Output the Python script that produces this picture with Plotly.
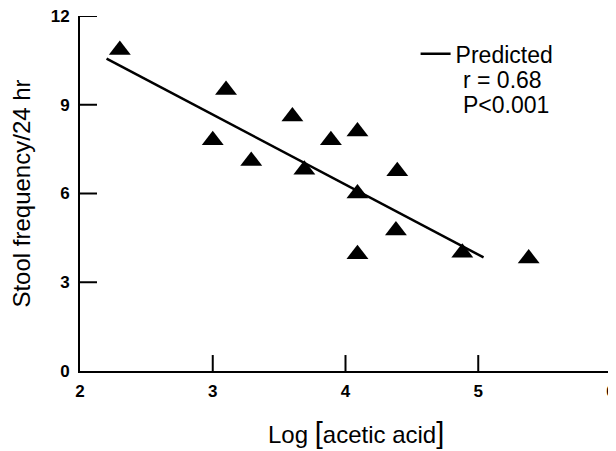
import plotly.graph_objects as go

# Observed data: log[acetic acid] vs stool frequency per 24 hr
log_acetic = [2.30, 3.10, 3.00, 3.29, 3.60, 3.69, 3.89, 4.09, 4.09, 4.39, 4.38, 4.09, 4.88, 5.38]
stool_freq = [10.85, 9.5, 7.8, 7.1, 8.6, 6.8, 7.8, 8.1, 6.0, 6.75, 4.75, 3.95, 4.0, 3.8]

# Predicted regression line end points
pred_x = [2.20, 5.04]
pred_y = [10.56, 3.84]

x_ticks = [2, 3, 4, 5, 6]
y_ticks = [0, 3, 6, 9, 12]
x_range = [2, 6]
y_range = [0, 12]

# inward tick lengths, in axis units (about 16-17 px)
X_TICK_LEN = 0.54   # y-units
Y_TICK_LEN = 0.128  # x-units

FONT = "Liberation Sans, Arial, Helvetica, sans-serif"

fig = go.Figure()

# inward tick marks as line segments
tx, ty = [], []
for v in x_ticks[1:]:
    tx += [v, v, None]
    ty += [y_range[0], y_range[0] + X_TICK_LEN, None]
for v in y_ticks[1:]:
    tx += [x_range[0], x_range[0] + Y_TICK_LEN, None]
    ty += [v, v, None]
fig.add_trace(go.Scatter(
    x=tx, y=ty, mode="lines", showlegend=False, hoverinfo="skip",
    line=dict(color="black", width=2), cliponaxis=False,
))

fig.add_trace(go.Scatter(
    x=pred_x, y=pred_y, mode="lines", name="Predicted",
    line=dict(color="black", width=2.5), showlegend=True,
))
fig.add_trace(go.Scatter(
    x=log_acetic, y=stool_freq, mode="markers", showlegend=False,
    marker=dict(symbol="triangle-up", size=19, color="black", line=dict(width=0)),
))

fig.update_layout(
    width=616, height=451,
    margin=dict(l=72, r=13, t=8, b=88, autoexpand=False),
    plot_bgcolor="white", paper_bgcolor="white",
    font=dict(family=FONT, color="black"),
    showlegend=True,
    legend=dict(
        x=0.632, y=0.954, xanchor="left", yanchor="top",
        bgcolor="rgba(0,0,0,0)", font=dict(size=23, family=FONT),
        itemwidth=30, tracegroupgap=0,
    ),
    annotations=[
        dict(text="r = 0.68", xref="paper", yref="paper", x=0.717, y=0.82,
             xanchor="left", yanchor="middle", showarrow=False,
             font=dict(size=23, family=FONT)),
        dict(text="P<0.001", xref="paper", yref="paper", x=0.717, y=0.749,
             xanchor="left", yanchor="middle", showarrow=False,
             font=dict(size=23, family=FONT)),
        dict(text="Log <span style='font-size:29px'>[</span>acetic acid<span style='font-size:29px'>]</span>",
             xref="paper", yref="paper", x=0.52, y=-0.174,
             xanchor="center", yanchor="middle", showarrow=False,
             font=dict(size=24, family=FONT)),
    ],
)

fig.update_xaxes(
    range=x_range, tickvals=x_ticks, ticktext=[f"<b>{v}</b>" for v in x_ticks],
    showline=True, linecolor="black", linewidth=2, mirror=False,
    ticks="", showgrid=False, zeroline=False, automargin=False,
    tickfont=dict(size=17, family=FONT), ticklabelstandoff=4,
    ticklabeloverflow="allow",
)
fig.update_yaxes(
    range=y_range, tickvals=y_ticks, ticktext=[f"<b>{v}</b>" for v in y_ticks],
    showline=True, linecolor="black", linewidth=2, mirror=False,
    ticks="", showgrid=False, zeroline=False, automargin=False,
    tickfont=dict(size=17, family=FONT), ticklabelstandoff=5,
    ticklabeloverflow="allow",
    title=dict(text="Stool frequency/24 hr", font=dict(size=24, family=FONT), standoff=16),
)

fig.write_html("out.html")
